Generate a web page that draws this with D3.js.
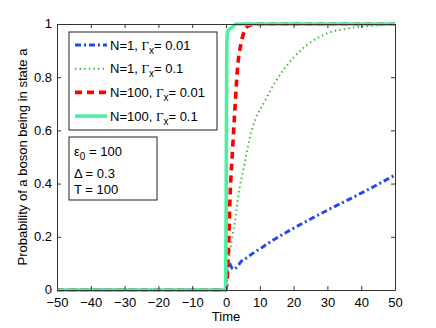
<!DOCTYPE html>
<html>
<head>
<meta charset="utf-8">
<script src="https://cdn.jsdelivr.net/npm/d3@7"></script>
<style>
body { margin: 0; background: #fff; }
text { font-family: "Liberation Sans", Arial, sans-serif; }
</style>
</head>
<body>
<div id="vis" style="width:436px;height:328px"></div>
<script>
var width = 436, height = 328;

var margin = { top: 24, left: 57, right: 41, bottom: 38 };

// N=1, Gamma_x = 0.01
var blueT = [-50, -0.2, 0, 0.3, 0.6, 1.0, 1.5, 2.2, 3.5, 4.4, 5.9, 8.4, 11, 14, 20, 30, 40, 50];
var blueP = [0, 0, 0.01, 0.06, 0.095, 0.1, 0.088, 0.078, 0.09, 0.106, 0.119, 0.142, 0.163, 0.188, 0.232, 0.30, 0.364, 0.432];

// N=1, Gamma_x = 0.1
var dotT = [-50, -0.2, 0, 0.3, 0.9, 1.5, 2.2, 3.0, 3.6, 5.1, 7.6, 11.5, 15, 22, 29, 37, 45, 50];
var dotP = [0, 0, 0.01, 0.06, 0.12, 0.17, 0.225, 0.29, 0.35, 0.45, 0.6, 0.71, 0.79, 0.9, 0.96, 0.985, 0.995, 1];

// N=100, Gamma_x = 0.01
var redT = [-50, -0.2, 0.2, 0.5, 0.7, 1.2, 2.0, 2.7, 3.1, 3.5, 4.5, 5.6, 7, 10, 50];
var redP = [0, 0, 0.02, 0.08, 0.14, 0.35, 0.54, 0.695, 0.78, 0.846, 0.93, 0.977, 0.995, 1, 1];

// N=100, Gamma_x = 0.1
var tealT = [-50, -0.3, -0.1, 0.05, 0.2, 0.35, 0.6, 1, 1.5, 2, 3, 5, 50];
var tealP = [0, 0, 0.02, 0.3, 0.85, 0.96, 0.975, 0.98, 0.985, 0.99, 1, 1, 1];

var xTicks = [-50, -40, -30, -20, -10, 0, 10, 20, 30, 40, 50];
var yTicks = [0, 0.2, 0.4, 0.6, 0.8, 1];

var legendLabels = [
    ["N=1, ", "0.01"],
    ["N=1, ", "0.1"],
    ["N=100, ", "0.01"],
    ["N=100, ", "0.1"]
];
var paramLabels = [
    ["\u03b5", "0", " = 100"],
    ["\u0394", "", " = 0.3"],
    ["T", "", " = 100"]
];

var series = [
    { t: blueT, p: blueP, color: "#2448f0", w: 3, dash: "6,3,2,3" },
    { t: dotT, p: dotP, color: "#3cb82c", w: 2, dash: "1.4,3.2" },
    { t: redT, p: redP, color: "#ff0000", w: 3.6, dash: "7,5" },
    { t: tealT, p: tealP, color: "#4cf0a0", w: 3.6, dash: null }
];

var svg = d3.select("#vis")
    .append("svg")
    .attr("width", width)
    .attr("height", height);

var w = width - margin.left - margin.right;
var h = height - margin.top - margin.bottom;

var g = svg.append("g")
    .attr("transform", "translate(" + margin.left + "," + margin.top + ")");

var xscale = d3.scaleLinear().domain([-50, 50]).range([0, w]);
var yscale = d3.scaleLinear().domain([0, 1]).range([h, 0]);

g.append("clipPath").attr("id", "clip")
    .append("rect").attr("x", 0).attr("y", -2).attr("width", w).attr("height", h + 4);

var line = d3.line()
    .x(function(d) { return xscale(d[0]); })
    .y(function(d) { return yscale(d[1]); })
    .curve(d3.curveMonotoneX);

series.forEach(function(s) {
    var pts = s.t.map(function(t, i) { return [t, s.p[i]]; });
    g.append("path")
        .attr("clip-path", "url(#clip)")
        .attr("d", line(pts))
        .attr("fill", "none")
        .attr("stroke", s.color)
        .attr("stroke-width", s.w)
        .attr("stroke-dasharray", s.dash);
});

// axes box with inward ticks (matlab style)
var axisColor = "#333";
var xaxis = d3.axisBottom(xscale).tickValues(xTicks).tickSizeInner(-4).tickSizeOuter(0).tickPadding(8)
    .tickFormat(d3.format("d"));
var yaxis = d3.axisLeft(yscale).tickValues(yTicks).tickSizeInner(-4).tickSizeOuter(0).tickPadding(5)
    .tickFormat(function(d) { return d === 0 || d === 1 ? String(d) : d3.format(".1f")(d); });

var gx = g.append("g").attr("transform", "translate(0," + h + ")").call(xaxis);
var gy = g.append("g").call(yaxis);
g.append("g").call(d3.axisTop(xscale).tickValues(xTicks).tickSizeInner(-4).tickSizeOuter(0).tickFormat(""));
g.append("g").attr("transform", "translate(" + w + ",0)")
    .call(d3.axisRight(yscale).tickValues(yTicks).tickSizeInner(-4).tickSizeOuter(0).tickFormat(""));

g.selectAll(".domain").attr("stroke", axisColor);
g.selectAll(".tick line").attr("stroke", axisColor);
g.selectAll(".tick text").attr("fill", "#000").style("font-size", "13px")
    .style("font-family", "'Liberation Sans', Arial, sans-serif");
gx.selectAll(".tick text").attr("dy", "0.71em");
gy.selectAll(".tick text").attr("dy", "0.3em");

// axis titles
svg.append("text")
    .attr("x", margin.left + xscale(0))
    .attr("y", 321)
    .attr("text-anchor", "middle")
    .style("font-size", "13px")
    .text("Time");

svg.append("text")
    .attr("transform", "translate(27," + (margin.top + h / 2) + ") rotate(-90)")
    .attr("text-anchor", "middle")
    .style("font-size", "13px")
    .text("Probability of a boson being in state a");

// legend
var leg = svg.append("g").attr("transform", "translate(69,32)");
leg.append("rect").attr("width", 148).attr("height", 98)
    .attr("fill", "#fff").attr("stroke", "#222").attr("stroke-width", 1);

legendLabels.forEach(function(lab, i) {
    var y = 13 + i * 23.7;
    var s = series[i];
    leg.append("line")
        .attr("x1", 6).attr("x2", 38).attr("y1", y).attr("y2", y)
        .attr("stroke", s.color).attr("stroke-width", s.w)
        .attr("stroke-dasharray", s.dash);
    var t = leg.append("text").attr("x", 41).attr("y", y + 4.5).style("font-size", "13px");
    t.append("tspan").text(lab[0]);
    t.append("tspan").style("font-family", "'Liberation Serif', 'Times New Roman', serif").text("\u0393");
    t.append("tspan").attr("dy", 4).style("font-size", "10px").text("x");
    t.append("tspan").attr("dy", -4).text("= " + lab[1]);
});

// parameter box
var par = svg.append("g").attr("transform", "translate(69,137)");
par.append("rect").attr("width", 88).attr("height", 63)
    .attr("fill", "#fff").attr("stroke", "#222").attr("stroke-width", 1);

paramLabels.forEach(function(lab, i) {
    var t = par.append("text").attr("x", 5).attr("y", [19, 41, 57][i]).style("font-size", "13px");
    t.append("tspan").text(lab[0]);
    if (lab[1]) {
        t.append("tspan").attr("dy", 4).style("font-size", "10px").text(lab[1]);
        t.append("tspan").attr("dy", -4).text(lab[2]);
    } else {
        t.append("tspan").text(lab[2]);
    }
});
</script>
</body>
</html>
